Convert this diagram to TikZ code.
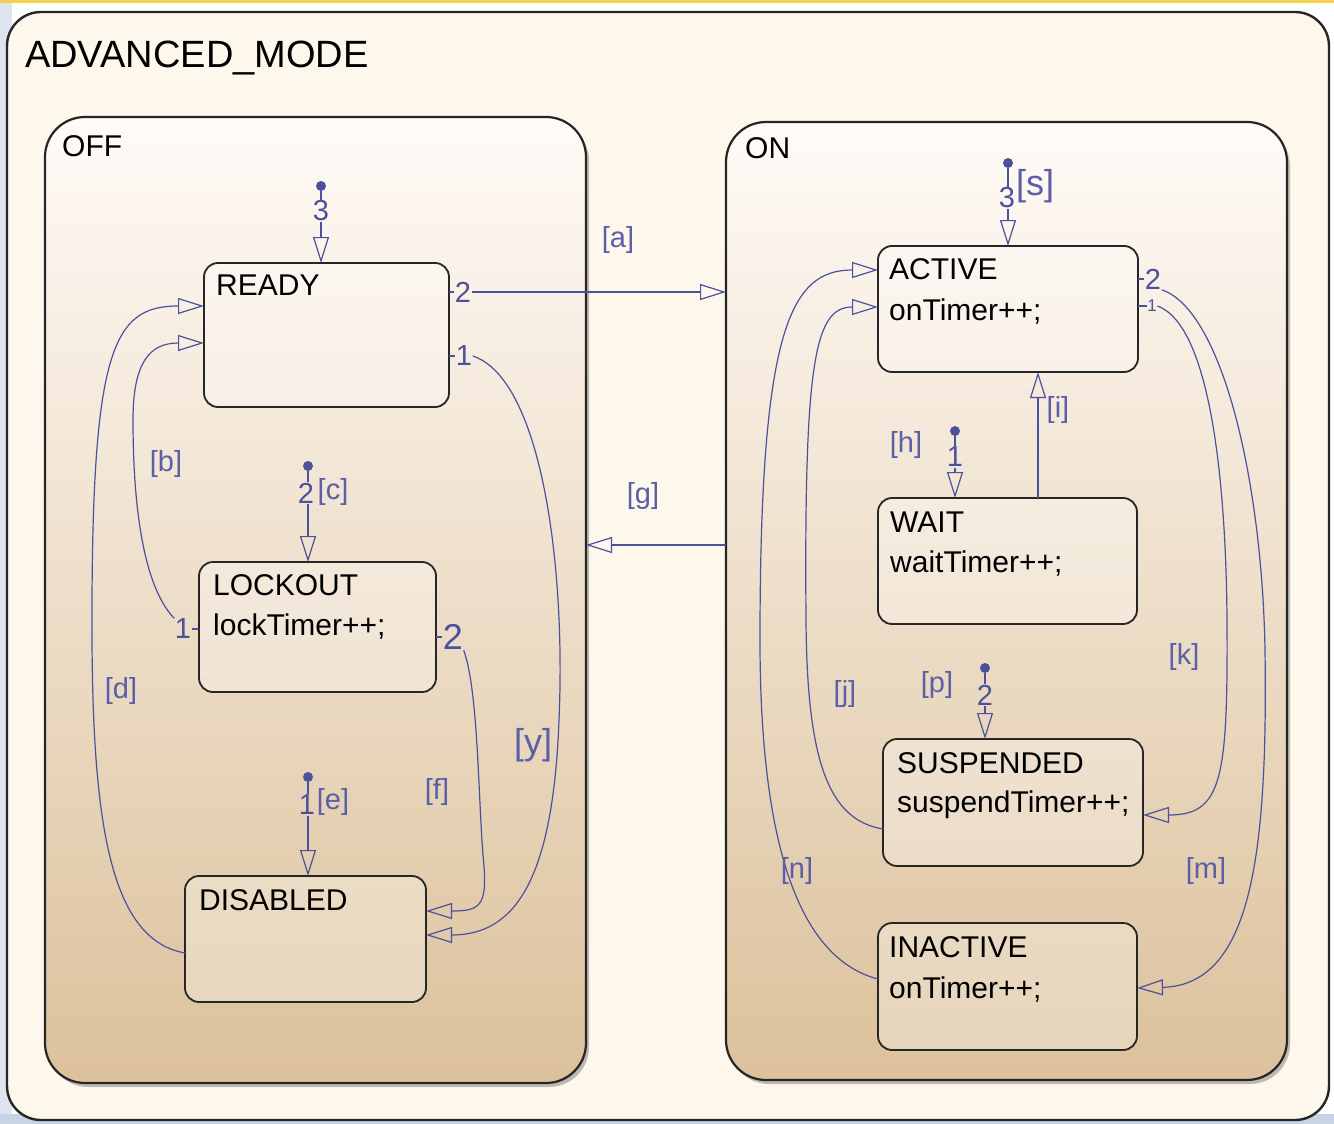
\documentclass[tikz,border=0pt]{standalone}
\usepackage{fontspec}
\setmainfont{Liberation Sans}
\usetikzlibrary{arrows.meta,calc,shadows}
\definecolor{tblue}{HTML}{4C519C}
\definecolor{lblue}{HTML}{5A5FA8}
\definecolor{cTop}{HTML}{FFFBF7}
\definecolor{cMid}{HTML}{F4E2D0}
\definecolor{cBot}{HTML}{DCC19B}
\definecolor{outerfill}{HTML}{FDF7EC}
\definecolor{edgeblue}{HTML}{C9D3E6}
\definecolor{topyellow}{HTML}{F2D24A}
\newcommand\zstfont{\fontsize{30}{36}\selectfont}
\newcommand\zlblfont{\fontsize{29}{34}\selectfont}
\newcommand\zbigfont{\fontsize{36}{42}\selectfont}
\begin{document}
\begin{tikzpicture}[x=1pt,y=-1pt,
  container/.style={draw=black!85, line width=2.2pt, rounded corners=40pt,
    top color=cTop, middle color=cMid, bottom color=cBot,
    drop shadow={shadow xshift=3pt, shadow yshift=-4pt, opacity=.25, fill=black},
    inner sep=0pt, outer sep=0pt, anchor=north west},
  stbox/.style={draw=black!85, line width=1.8pt, rounded corners=14pt,
    fill=white, fill opacity=0.3, draw opacity=1, inner sep=0pt, outer sep=0pt, anchor=north west},
  sttext/.style={anchor=base west, inner sep=0pt, font=\zstfont, text=black},
  tline/.style={draw=tblue, line width=1.2pt},
  tarr/.style={draw=tblue, line width=1.2pt, -{Triangle[open, length=26pt, width=16pt, line width=1.2pt]}},
  lbl/.style={text=lblue, font=\zlblfont, inner sep=1pt},
  numl/.style={text=tblue, font=\zlblfont, inner sep=0.5pt},
  dotn/.style={circle, fill=tblue, minimum size=10pt, inner sep=0pt}]
\useasboundingbox (0,0) rectangle (1334,1124);
% page background
\fill[white] (0,0) rectangle (1334,1124);
\fill[edgeblue!60] (0,3) rectangle (12,1124);
\fill[edgeblue] (0,1114) rectangle (1334,1124);
\fill[topyellow] (0,0) rectangle (1334,3);
% containers
\node[draw=black!85, line width=2.4pt, rounded corners=34pt, fill=outerfill,
  inner sep=0pt, outer sep=0pt, anchor=north west,
  minimum width=1322pt, minimum height=1108pt] (adv) at (7,12) {};
\node[sttext, font=\fontsize{38}{44}\selectfont] (advT) at (25,68) {ADVANCED\_MODE};
\node[container, minimum width=541pt, minimum height=966pt] (off) at (45,117) {};
\node[sttext] (offT) at (62,156) {OFF};
\node[container, minimum width=561pt, minimum height=958pt] (on) at (726,122) {};
\node[sttext] (onT) at (745,158) {ON};
% states
\node[stbox, minimum width=245pt, minimum height=144pt] (ready) at (204,263) {};
\node[sttext] (readyT) at (216,295) {READY};
\node[stbox, minimum width=237pt, minimum height=130pt] (lockout) at (199,562) {};
\node[sttext] (lockT) at (213,595) {LOCKOUT};
\node[sttext] (lockA) at (213,635) {lockTimer++;};
\node[stbox, minimum width=241pt, minimum height=126pt] (disabled) at (185,876) {};
\node[sttext] (disT) at (199,910) {DISABLED};
\node[stbox, minimum width=260pt, minimum height=126pt] (active) at (878,246) {};
\node[sttext] (actT) at (889,279) {ACTIVE};
\node[sttext] (actA) at (889,320) {onTimer++;};
\node[stbox, minimum width=259pt, minimum height=126pt] (wait) at (878,498) {};
\node[sttext] (waitT) at (890,532) {WAIT};
\node[sttext] (waitA) at (890,572) {waitTimer++;};
\node[stbox, minimum width=260pt, minimum height=127pt] (suspended) at (883,739) {};
\node[sttext] (susT) at (897,773) {SUSPENDED};
\node[sttext] (susA) at (897,812) {suspendTimer++;};
\node[stbox, minimum width=259pt, minimum height=127pt] (inactive) at (878,923) {};
\node[sttext] (inaT) at (889,957) {INACTIVE};
\node[sttext] (inaA) at (889,998) {onTimer++;};
% default transitions in OFF
\node[dotn] (dR) at (321,186) {};
\node[numl] (nR) at (321,211) {3};
\draw[tline] (dR) -- (nR.north);
\draw[tarr] (nR.south) -- (nR |- ready.north);
\node[dotn] (dL) at (308,466) {};
\node[numl] (nL) at (306,493) {2};
\node[lbl] (lc) at (333,492) {[c]};
\draw[tline] (dL) -- (dL |- nL.north);
\draw[tarr] (dL |- nL.south) -- (dL |- lockout.north);
\node[dotn] (dD) at (308,777) {};
\node[numl] (nD) at (307,805) {1};
\node[lbl] (le) at (333,802) {[e]};
\draw[tline] (dD) -- (dD |- nD.north);
\draw[tarr] (dD |- nD.south) -- (dD |- disabled.north);
% default transitions in ON
\node[dotn] (dA) at (1008,163) {};
\node[numl] (nA) at (1007,198) {3};
\node[lbl, font=\zbigfont] (ls) at (1035,186) {[s]};
\draw[tline] (dA) -- (dA |- nA.north);
\draw[tarr] (dA |- nA.south) -- (dA |- active.north);
\node[dotn] (dW) at (955,431) {};
\node[numl] (nW) at (955,457) {1};
\node[lbl] (lh) at (906,445) {[h]};
\draw[tline] (dW) -- (nW.north);
\draw[tarr] (nW.south) -- (nW |- wait.north);
\node[dotn] (dS) at (985,668) {};
\node[numl] (nS) at (985,695) {2};
\node[lbl] (lp) at (937,685) {[p]};
\draw[tline] (dS) -- (nS.north);
\draw[tarr] (nS.south) -- (nS |- suspended.north);
% READY -> ON [a]
\node[numl] (n2R) at (463,292) {2};
\draw[tline] (n2R.west -| ready.east) -- (n2R.west);
\draw[tarr] (n2R.east) -- (n2R.east -| on.west);
\node[lbl] (la) at (618,240) {[a]};
% ON -> OFF [g]
\coordinate (gS) at ($(on.north west)+(0,423)$);
\draw[tarr] (gS) -- (gS -| off.east);
\node[lbl] (lg) at (643,496) {[g]};
% READY -> DISABLED [y]
\node[numl] (n1R) at (464,356) {1};
\draw[tline] (n1R.west -| ready.east) -- (n1R.west);
\draw[tarr] (n1R.east) .. controls (540,378) and (566,560) .. (559,720)
  .. controls (553,880) and (515,935) .. ($(disabled.north east)+(0,59)$);
\node[lbl, font=\zbigfont] (ly) at (533,745) {[y]};
% LOCKOUT -> DISABLED [f]
\node[numl, font=\zbigfont] (n2L) at (453,637) {2};
\draw[tline] (n2L.west -| lockout.east) -- (n2L.west);
\draw[tarr] (n2L.south east) .. controls (478,690) and (478,790) .. (483,855)
  .. controls (488,905) and (482,911) .. ($(disabled.north east)+(0,35)$);
\node[lbl] (lf) at (437,792) {[f]};
% LOCKOUT -> READY [b]
\node[numl] (n1L) at (183,629) {1};
\draw[tline] (n1L.east) -- (n1L.east -| lockout.west);
\draw[tarr] (n1L.north west) .. controls (142,585) and (133,500) .. (133,420)
  .. controls (133,362) and (150,343) .. ($(ready.north west)+(0,80)$);
\node[lbl] (lb) at (166,464) {[b]};
% DISABLED -> READY [d]
\draw[tarr] ($(disabled.north west)+(0,77)$) .. controls (112,940) and (93,830) .. (92,640)
  .. controls (91,350) and (112,306) .. ($(ready.north west)+(0,43)$);
\node[lbl] (ld) at (121,691) {[d]};
% WAIT -> ACTIVE [i]
\coordinate (wI) at ($(wait.north west)+(160,0)$);
\draw[tarr] (wI) -- (wI |- active.south);
\node[lbl] (li) at (1058,410) {[i]};
% ACTIVE -> INACTIVE [m]
\node[numl] (n2A) at (1153,279) {2};
\draw[tline] (n2A.west -| active.east) -- (n2A.west);
\draw[tarr] (n2A.south east) .. controls (1222,310) and (1262,480) .. (1265,650)
  .. controls (1268,860) and (1250,985) .. ($(inactive.north east)+(0,65)$);
\node[lbl] (lm) at (1206,871) {[m]};
% ACTIVE -> SUSPENDED [k]
\node[numl, font=\fontsize{17}{20}\selectfont] (n1A) at (1152,306) {1};
\draw[tline] (n1A.west -| active.east) -- (n1A.west);
\draw[tarr] (n1A.east) .. controls (1210,325) and (1226,480) .. (1227,620)
  .. controls (1228,780) and (1222,815) .. ($(suspended.north east)+(0,76)$);
\node[lbl] (lk) at (1184,657) {[k]};
% SUSPENDED -> ACTIVE [j]
\draw[tarr] ($(suspended.north west)+(0,90)$) .. controls (828,820) and (807,760) .. (806,620)
  .. controls (804,360) and (815,307) .. ($(active.north west)+(0,61)$);
\node[lbl] (lj) at (845,694) {[j]};
% INACTIVE -> ACTIVE [n]
\draw[tarr] ($(inactive.north west)+(0,56)$) .. controls (805,960) and (760,860) .. (760,640)
  .. controls (760,330) and (790,270) .. ($(active.north west)+(0,24)$);
\node[lbl] (ln) at (797,871) {[n]};
\end{tikzpicture}
\end{document}
